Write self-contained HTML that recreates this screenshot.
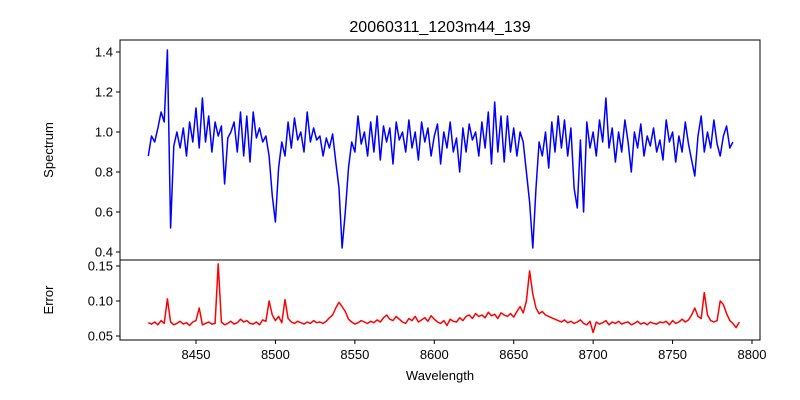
<!DOCTYPE html>
<html><head><meta charset="utf-8"><style>
body{margin:0;background:#fff}
svg{display:block;font-family:"Liberation Sans","DejaVu Sans",sans-serif}
</style></head><body>
<svg id="chart" width="800" height="400" viewBox="0 0 800 400">
<text x="440" y="32" text-anchor="middle" font-size="16">20060311_1203m44_139</text>
<g id="topg"></g><g id="botg"></g>
</svg>
<script>
const waveStart = 8420;
const waveStep = 2;
const spectrum = [.88,.98,.95,1.02,1.10,1.05,1.41,.52,.93,1.00,.92,1.02,.88,1.05,.95,1.12,.92,1.17,.95,1.08,.90,1.05,.98,1.03,.74,.97,1.00,1.05,.90,1.10,.88,1.08,.85,1.10,.97,1.02,.95,.98,.88,.68,.55,.82,.95,.88,1.05,.92,1.07,.96,1.00,.90,1.10,.95,1.02,.96,.98,.88,.97,.92,.99,.85,.72,.42,.60,.82,.95,.90,1.08,.94,1.00,.88,1.05,.90,1.08,.86,1.03,.95,1.02,.84,1.05,.96,1.00,.90,1.06,.92,1.00,.86,1.05,.95,1.02,.88,.98,1.04,.84,1.00,.92,1.05,.90,.97,.80,1.02,.90,1.04,.96,1.00,.88,1.05,.92,1.10,.84,1.15,.90,1.08,.85,1.08,.90,1.02,.88,1.00,.95,.80,.65,.42,.72,.95,.88,1.00,.82,1.05,.90,1.08,.92,1.06,.88,1.02,.72,.62,.96,.60,1.05,.92,1.00,.88,1.06,.95,1.17,.92,1.02,.85,1.00,.90,1.06,.95,.80,1.00,.92,1.04,.88,.98,.93,1.02,.90,.96,.86,1.06,.95,1.00,.85,.98,.90,1.05,.94,.86,.78,.98,1.08,.90,1.00,.92,1.06,.94,.88,.98,1.03,.92,.95];
const errors = [.069,.067,.070,.066,.072,.068,.103,.070,.066,.068,.071,.067,.069,.065,.070,.072,.090,.066,.068,.070,.067,.068,.153,.070,.066,.068,.071,.067,.069,.074,.070,.072,.068,.067,.070,.066,.073,.071,.100,.080,.072,.078,.069,.102,.075,.070,.068,.071,.069,.067,.070,.068,.072,.069,.070,.068,.071,.076,.080,.090,.098,.092,.085,.074,.070,.067,.069,.072,.070,.068,.071,.069,.073,.070,.076,.080,.074,.072,.078,.074,.070,.068,.075,.072,.078,.070,.073,.076,.071,.079,.074,.070,.068,.072,.065,.074,.071,.070,.076,.072,.078,.080,.075,.082,.078,.080,.076,.084,.079,.081,.075,.083,.080,.078,.082,.077,.085,.092,.083,.100,.143,.110,.090,.082,.085,.080,.078,.076,.074,.072,.070,.073,.069,.071,.068,.070,.073,.068,.066,.071,.055,.070,.067,.069,.072,.066,.070,.068,.071,.067,.069,.070,.066,.068,.071,.067,.069,.066,.070,.068,.067,.070,.069,.071,.066,.072,.068,.070,.074,.070,.073,.080,.090,.078,.075,.112,.080,.072,.070,.072,.100,.095,.082,.072,.068,.062,.070];
const topTicks = [0.4,0.6,0.8,1.0,1.2,1.4];
const botTicks = [0.05,0.10,0.15];
const xTicks = [8450,8500,8550,8600,8650,8700,8750,8800];

const L=120,R=760,T1=40,B1=260,T2=260,B2=340;
const xs = w => 196 + (w-8450)*556/350;
const ys1 = v => 252 - (v-0.4)*200;
const ys2 = v => 336 - (v-0.05)*700;
const NS='http://www.w3.org/2000/svg';
function mk(parent,tag,attrs){const e=document.createElementNS(NS,tag);for(const k in attrs)e.setAttribute(k,attrs[k]);parent.appendChild(e);return e;}
const gTop=document.getElementById('topg'), gBot=document.getElementById('botg');

function series(g,vals,ys,color,name){
  let d='';
  vals.forEach((v,i)=>{const w=waveStart+i*waveStep;d+=(i?'L':'M')+xs(w).toFixed(1)+' '+ys(v).toFixed(1);});
  const p=mk(g,'path',{d:d,fill:'none',stroke:color,'stroke-width':1.5,'stroke-linejoin':'round'});
  
  
}
series(gTop,spectrum,ys1,'#0000ff','spectrum-line');
series(gBot,errors,ys2,'#ff0000','error-line');

let f1=mk(gTop,'rect',{x:L,y:T1,width:R-L,height:B1-T1,fill:'none',stroke:'#000','stroke-width':1});


let f2=mk(gBot,'rect',{x:L,y:T2,width:R-L,height:B2-T2,fill:'none',stroke:'#000','stroke-width':1});



topTicks.forEach(t=>{const y=ys1(t);mk(gTop,'line',{x1:L-4,x2:L,y1:y,y2:y,stroke:'#000'});
  const tx=mk(gTop,'text',{x:L-7,y:y+4.5,'text-anchor':'end','font-size':13});tx.textContent=t.toFixed(1);
  
  });
botTicks.forEach(t=>{const y=ys2(t);mk(gBot,'line',{x1:L-4,x2:L,y1:y,y2:y,stroke:'#000'});
  const tx=mk(gBot,'text',{x:L-7,y:y+4.5,'text-anchor':'end','font-size':13});tx.textContent=t.toFixed(2);
  
  });
xTicks.forEach(t=>{const x=xs(t);mk(gBot,'line',{x1:x,x2:x,y1:B2,y2:B2+4,stroke:'#000'});
  const tx=mk(gBot,'text',{x:x,y:B2+19,'text-anchor':'middle','font-size':13});tx.textContent=t;
  
  });

let a=mk(gTop,'text',{x:0,y:0,'text-anchor':'middle','font-size':13,transform:'translate(53,150) rotate(-90)'});a.textContent='Spectrum';


let b=mk(gBot,'text',{x:0,y:0,'text-anchor':'middle','font-size':13,transform:'translate(53,300) rotate(-90)'});b.textContent='Error';


let c=mk(gBot,'text',{x:440,y:380,'text-anchor':'middle','font-size':13});c.textContent='Wavelength';


</script>
</body></html>
